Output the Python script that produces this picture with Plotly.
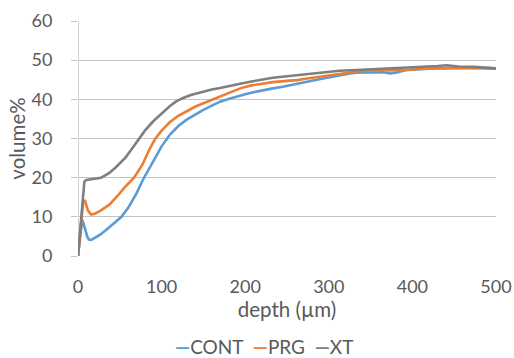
import plotly.graph_objects as go

cont_x = [0, 2, 4, 5, 7, 9, 11, 13, 16, 20, 27, 35, 45, 52, 60, 70, 78, 90, 100, 110, 120, 130, 140, 150, 160, 170, 180, 190, 200, 210, 220, 233, 245, 260, 274, 290, 300, 313, 325, 333, 345, 355, 365, 373, 380, 393, 405, 420, 441, 460, 480, 497, 500]
cont_y = [0, 4.5, 8.5, 9.3, 8.0, 6.2, 5.0, 4.2, 4.1, 4.6, 5.5, 6.9, 8.6, 10, 12.3, 16.0, 19.6, 24.2, 28.0, 31.0, 33.2, 34.8, 36.1, 37.3, 38.4, 39.4, 40.1, 40.8, 41.3, 41.8, 42.3, 42.8, 43.2, 43.8, 44.5, 45.2, 45.6, 46.2, 46.6, 46.8, 46.9, 47.0, 46.9, 46.6, 46.8, 47.5, 47.7, 47.8, 48.0, 48.1, 48.0, 47.9, 47.8]

prg_x = [0, 2, 4, 6, 8, 10, 12, 15.5, 20, 27, 37.5, 47, 57, 67, 77, 85, 92, 100, 110, 120, 130, 140, 150, 160, 170, 180, 194, 206, 220, 233, 250, 262, 274, 290, 313, 330, 353, 373, 393, 413, 433, 453, 473, 490, 500]
prg_y = [0, 5, 10, 13.5, 14.3, 13, 11.6, 10.6, 10.8, 11.6, 13.1, 15.3, 17.8, 20, 23.3, 27, 29.8, 32.0, 34.2, 35.8, 37.0, 38.1, 39.0, 39.9, 40.8, 41.7, 42.8, 43.5, 44.0, 44.4, 44.7, 44.9, 45.3, 45.8, 46.6, 47.0, 47.5, 47.4, 47.5, 47.8, 47.9, 48.0, 48.0, 48.0, 47.9]

xt_x = [0, 2, 4, 6, 7.6, 10, 15, 20, 27.5, 32, 37.5, 45, 57, 65, 73, 80, 90, 100, 110, 117, 125, 135, 150, 160, 170, 180, 194, 206, 220, 233, 250, 274, 290, 313, 333, 353, 373, 393, 413, 430, 441, 455, 473, 490, 500]
xt_y = [0, 5, 10, 15, 19, 19.4, 19.6, 19.8, 20, 20.5, 21.2, 22.6, 25.2, 27.5, 30, 32, 34.4, 36.4, 38.3, 39.4, 40.3, 41.1, 42.0, 42.5, 42.9, 43.4, 44.0, 44.5, 45.1, 45.5, 45.9, 46.5, 46.9, 47.3, 47.5, 47.7, 47.8, 48.0, 48.2, 48.5, 48.7, 48.4, 48.3, 48.1, 47.9]

series_names = ["CONT", "PRG", "XT"]
series_colors = ["#5B9BD5", "#ED7D31", "#7F7F7F"]
x_ticks = [0, 100, 200, 300, 400, 500]
y_ticks = [0, 10, 20, 30, 40, 50, 60]

FONT = "Lato"
TXT = "#595959"
GRID = "#c4c4c4"

fig = go.Figure()
for name, xs, ys, col in zip(series_names, [cont_x, prg_x, xt_x],
                             [cont_y, prg_y, xt_y], series_colors):
    fig.add_trace(go.Scatter(x=xs, y=ys, name=name, mode="lines",
                             line=dict(color=col, width=2.6), showlegend=False))

legend_text = "&nbsp;&nbsp;".join(
    f"<span style='color:{c}'><b>—</b></span>{n}"
    for n, c in zip(series_names, series_colors))

fig.update_layout(
    width=514, height=358,
    margin=dict(l=78, r=18, t=20.5, b=101.5, autoexpand=False),
    paper_bgcolor="white", plot_bgcolor="white",
    font=dict(family=FONT, size=18, color=TXT),
    showlegend=False,
    xaxis=dict(range=[0, 500], tickvals=x_ticks, showgrid=False, zeroline=False,
               showline=False, ticks="", ticklabelstandoff=18, automargin=False,
               title=dict(text="depth (µm)", standoff=5, font=dict(size=20.5))),
    yaxis=dict(range=[0, 60], tickvals=y_ticks, showgrid=True, gridcolor=GRID,
               gridwidth=1.3, zeroline=False, showline=False, ticks="outside",
               ticklen=6, tickcolor=GRID, tickwidth=1.3,
               ticklabelstandoff=15, automargin=False,
               title=dict(text="volume%", standoff=0, font=dict(size=20.5))),
    shapes=[dict(type="line", xref="x", yref="paper", x0=0, x1=0, y0=0, y1=1,
                 line=dict(color=GRID, width=1.5), layer="below")],
    annotations=[dict(text=legend_text, xref="paper", yref="paper",
                      x=0.445, y=-0.383, xanchor="center", yanchor="middle",
                      showarrow=False, font=dict(size=19, color=TXT))],
)

fig.write_html("out.html", config={"displayModeBar": False},
               post_script="document.body.style.margin='0';document.body.style.overflow='hidden';")
